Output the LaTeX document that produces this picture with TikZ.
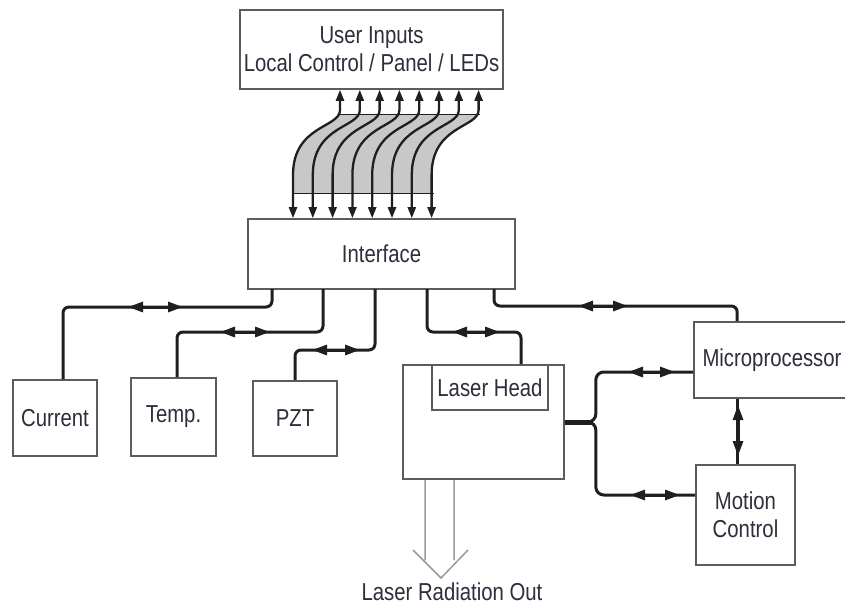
\documentclass[tikz,border=0pt]{standalone}
\usepackage{fontspec}
\setmainfont{Liberation Sans}[FakeStretch=0.83]
\usepackage{tikz}
\usetikzlibrary{arrows.meta, calc}
\definecolor{cText} {HTML}{2E2E3C}
\definecolor{cFrame}{HTML}{5C5C5C}
\definecolor{cWire} {HTML}{1F1F1F}
\definecolor{cBand} {HTML}{C8C8C8}
\definecolor{cBeam} {HTML}{9A9A9A}
\tikzset{
  unit/.style={draw=cFrame, line width=1.6pt, fill=white, text=cText, align=center,
    inner sep=0pt, font=\fontsize{24.5}{28}\selectfont},
  wire/.style={draw=cWire, line width=3pt, rounded corners=6pt},
  tips/.style={draw=cWire, line width=3pt,
    {Triangle[length=15pt,width=10pt]}-{Triangle[length=15pt,width=10pt]}},
  lead/.style={draw=cWire, line width=2.3pt,
    {Triangle[length=11pt,width=8pt]}-{Triangle[length=11pt,width=8pt]}},
}
\begin{document}
\begin{tikzpicture}[x=1pt, y=-1pt]
  \useasboundingbox (0,0) rectangle (845,607);

  \node[unit, minimum width=263pt, minimum height=79pt] (user) at (371.5,49.5)
        {User Inputs\\Local Control / Panel / LEDs};
  \node[unit, minimum width=267pt, minimum height=70pt] (iface) at (381.5,254) {Interface};
  \node[unit, minimum width=84pt, minimum height=76pt] (cur) at (55,418) {Current};
  \node[unit, minimum width=85pt, minimum height=78pt] (temp) at (173.5,417) {Temp.};
  \node[unit, minimum width=84pt, minimum height=75pt] (pzt) at (295,418.5) {PZT};
  \node[unit, minimum width=161pt, minimum height=114pt] (laser) at (483.5,422) {};
  \node[unit, minimum width=116pt, minimum height=45pt] (head) at (490,387.5) {Laser Head};
  \node[unit, minimum width=156pt, minimum height=76pt] (micro) at (772,360) {Microprocessor};
  \node[unit, minimum width=99pt, minimum height=100pt] (motion) at (745.5,515) {Motion\\Control};
  \node[text=cText, inner sep=0pt, font=\fontsize{24.5}{28}\selectfont] (out) at (452,592) {Laser Radiation Out};

  \coordinate (pCur)  at (272,289);
  \coordinate (pTmp)  at (323,289);
  \coordinate (pPzt)  at (375,289);
  \coordinate (pHead) at (427,289);
  \coordinate (pMic)  at (494,289);
  \coordinate (mTop) at ($(micro.north west)+(44,0)$);
  \coordinate (mBot) at ($(micro.south west)+(44,0)$);
  \coordinate (fork) at ($(laser.east)+(31,0)$);

  \begin{scope}
    \clip (0,115) rectangle (845,193);
    \fill[cBand] (340,100) -- (479,100) -- (479,110) .. controls (479,128) and (432,125) .. (432,175)
      -- (432,200) -- (293,200) -- (293,175) .. controls (293,125) and (340,128) .. (340,110) -- cycle;
  \end{scope}
  \draw[cWire, line width=1pt] (338,115) -- (480,115);
  \draw[cWire, line width=1pt] (293,193) -- (434,193);
  \foreach \i in {0,...,7}{
    \pgfmathsetmacro\xt{340+19.8*\i}
    \pgfmathsetmacro\xb{293+19.8*\i}
    \draw[lead] (user.south -| \xt,0) -- (\xt,110) .. controls (\xt,128) and (\xb,125) .. (\xb,175)
      -- (iface.north -| \xb,0);
  }

  \draw[wire] ($(cur.north)+(8,0)$) |- (pCur |- 0,307) -- (pCur);
  \draw[wire] ($(temp.north)+(3.5,0)$) |- (pTmp |- 0,332) -- (pTmp);
  \draw[wire] (pzt.north) |- (pPzt |- 0,350) -- (pPzt);
  \draw[wire] (pHead) -- (pHead |- 0,332) -| ($(head.north)+(31,0)$);
  \draw[wire] (pMic) -- (pMic |- 0,306) -| (mTop);
  \draw[wire] (mBot) -- (mBot |- motion.north);
  \draw[wire, rounded corners=8pt] ($(micro.west)+(0,12)$) -| (fork) -- (laser.east);
  \draw[wire, rounded corners=8pt] ($(motion.west)+(0,-20)$) -| (fork) -- (laser.east);
  \draw[cWire, line width=5pt] (laser.east) -- ++(26,0);

  \draw[tips] (128,307) -- (183,307);
  \draw[tips] (220,332) -- (270,332);
  \draw[tips] (312,350) -- (360,350);
  \draw[tips] (452,332) -- (500,332);
  \draw[tips] (578,306) -- (628,306);
  \draw[tips] (628,372) -- (675,372);
  \draw[tips] (630,495) -- (680,495);
  \draw[tips] (738,405) -- (738,456);

  \draw[cBeam, line width=1.5pt] (laser.south -| 425,0) -- (425,560)
    (laser.south -| 454,0) -- (454,560) (413,550) -- (441,578) -- (468,550);
\end{tikzpicture}
\end{document}
